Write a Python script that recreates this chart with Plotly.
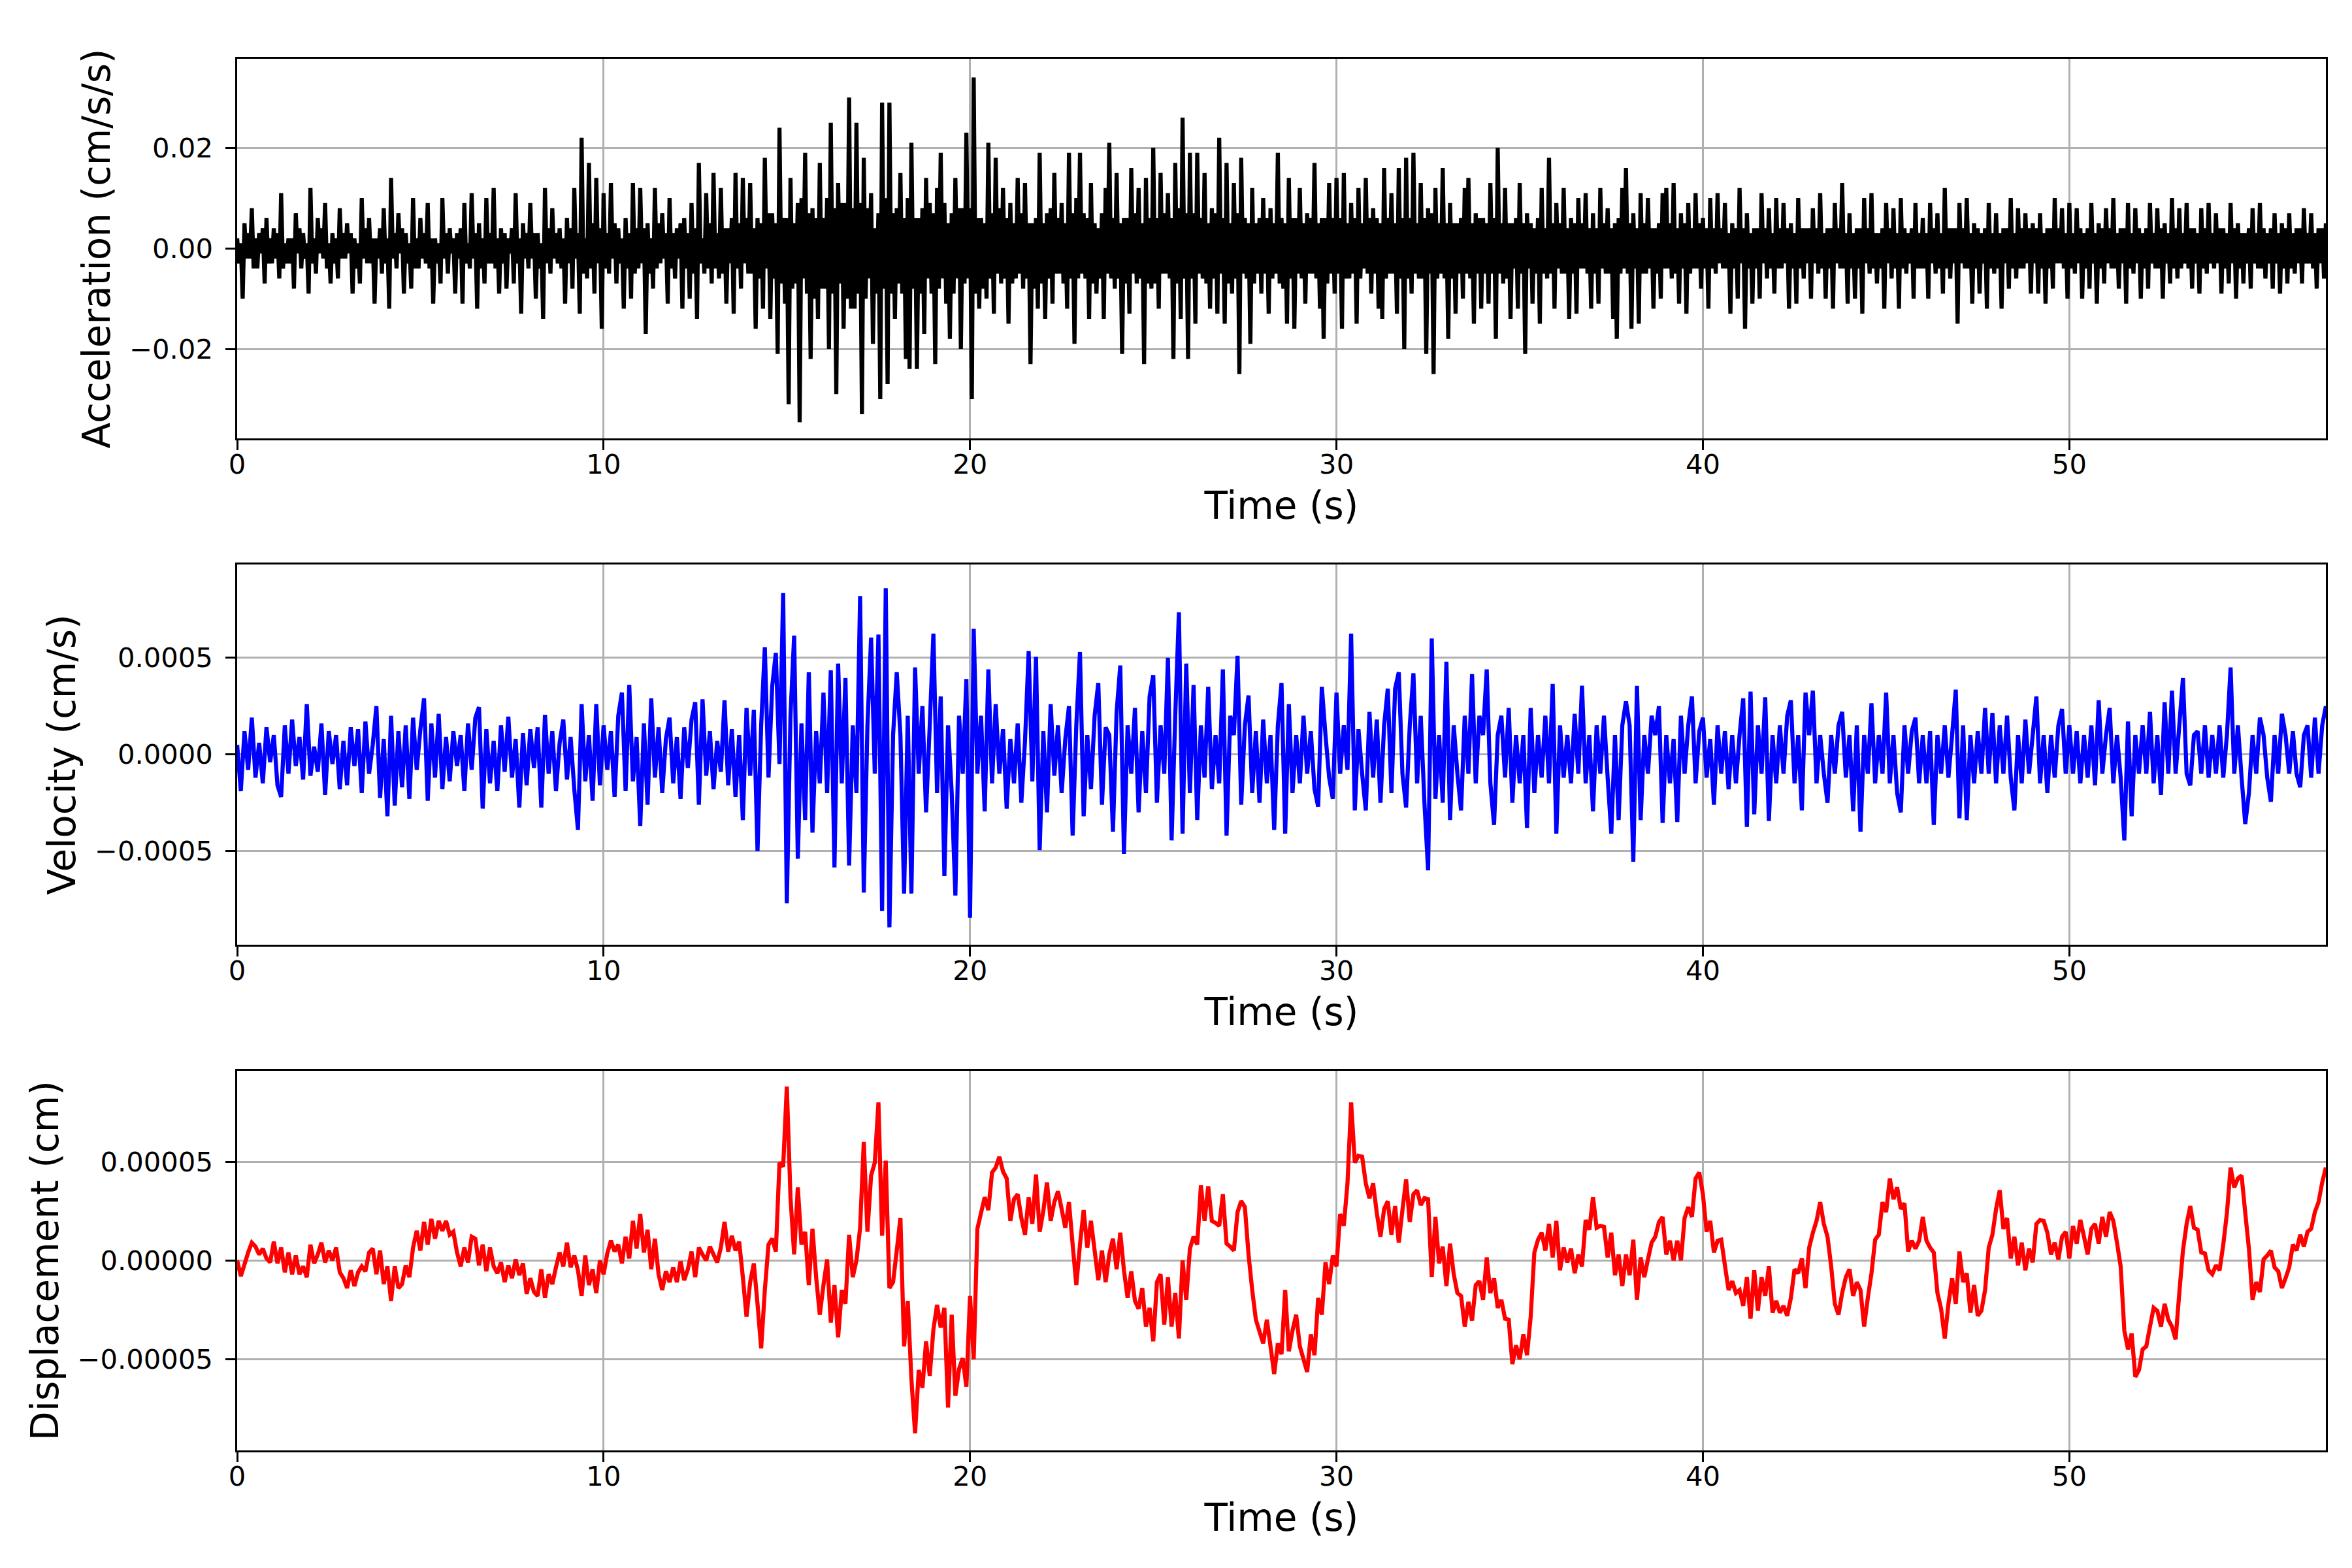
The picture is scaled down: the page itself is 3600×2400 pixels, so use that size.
import numpy as np
import plotly.graph_objects as go

# values; acceleration every 0.05 s, the others every 0.1 s
dt_acc = 0.05
dt = 0.1

# acceleration, units of 1e-3 cm/s/s (one row = 1 s)
acc_e3 = [
    2, -3, 1, -10, 5, -2, 3, -2, 8, -4, 2, -4, 3, -1, 4, -7, 6, -3, 2, -3,
    4, -2, 3, -6, 11, -4, 1, -3, 2, -3, 2, -8, 7, -1, 4, -4, 3, -2, 1, -9,
    12, -3, 2, -5, 6, -1, 4, -2, 9, -4, 1, -7, 3, -3, 2, -6, 8, -2, 3, -2,
    5, -1, 3, -9, 2, -4, 1, -7, 10, -2, 4, -3, 6, -3, 2, -11, 2, -2, 4, -5,
    8, -3, 2, -12, 14, -2, 3, -4, 7, -1, 4, -9, 3, -3, 1, -8, 10, -4, 2, -4,
    6, -2, 3, -3, 9, -4, 2, -11, 2, -3, 1, -7, 10, -2, 3, -5, 4, -1, 2, -9,
    3, -2, 4, -11, 9, -3, 1, -4, 11, -2, 3, -12, 5, -4, 2, -7, 10, -3, 3, -3,
    12, -4, 2, -9, 4, -3, 3, -8, 2, -1, 4, -7, 11, -3, 2, -13, 5, -2, 3, -4,
    9, -2, 3, -10, 3, -4, 1, -14, 12, -3, 4, -5, 8, -2, 3, -3, 4, -4, 2, -11,
    6, -3, 4, -8, 12, -2, 3, -13, 22, -5, 2, -6, 17, -4, 5, -9, 14, -3, 4, -16,
    11, -4, 3, -5, 13, -2, 5, -7, 4, -3, 2, -12, 6, -4, 3, -10, 13, -5, 4, -4,
    12, -3, 4, -17, 5, -5, 2, -8, 12, -4, 5, -3, 7, -2, 3, -11, 10, -4, 3, -6,
    4, -2, 5, -12, 6, -4, 3, -10, 9, -5, 4, -14, 17, -3, 2, -5, 11, -4, 5, -7,
    15, -4, 3, -6, 12, -5, 4, -11, 4, -3, 6, -13, 15, -4, 5, -8, 14, -3, 6, -5,
    13, -5, 4, -16, 6, -6, 5, -12, 18, -4, 7, -14, 7, -6, 5, -21, 24, -7, 6, -11,
    6, -31, 14, -8, 5, -7, 9, -34.6, 10, -6, 19, -9, 7, -22, 8, -10, 6, -14, 17, -8,
    6, -8, 10, -20, 25, -9, 8, -29, 13, -7, 9, -16, 9, -10, 30, -12, 8, -12, 25, -9,
    9, -33, 18, -10, 8, -6, 11, -19, 4, -9, 7, -30, 29, -8, 10, -27, 29, -9, 7, -14,
    8, -7, 15, -9, 6, -22, 10, -24, 21, -8, 6, -24, 6, -9, 8, -17, 14, -6, 9, -9,
    7, -23, 12, -8, 19, -6, 9, -11, 5, -18, 7, -9, 14, -6, 8, -20, 8, -7, 23, -6,
    8, -30, 34, -9, 6, -12, 6, -8, 5, -10, 21, -6, 7, -13, 18, -5, 8, -7, 12, -6,
    6, -15, 9, -7, 5, -6, 14, -5, 7, -8, 13, -6, 5, -23, 5, -8, 6, -12, 19, -7,
    5, -14, 7, -6, 8, -11, 15, -5, 6, -5, 9, -7, 5, -12, 19, -6, 7, -19, 10, -6,
    19, -5, 7, -6, 6, -14, 13, -7, 5, -9, 4, -6, 7, -14, 12, -5, 21, -6, 6, -8,
    15, -6, 5, -21, 6, -7, 6, -13, 16, -5, 7, -7, 12, -6, 5, -23, 14, -7, 6, -8,
    20, -7, 6, -12, 15, -5, 7, -5, 11, -6, 6, -22, 17, -7, 8, -14, 26, -6, 7, -22,
    19, -6, 7, -15, 19, -5, 6, -6, 15, -7, 5, -12, 8, -6, 7, -13, 22, -5, 6, -15,
    17, -7, 5, -9, 13, -6, 7, -25, 18, -5, 6, -6, 5, -19, 12, -7, 5, -5, 6, -9,
    10, -5, 6, -13, 8, -6, 5, -5, 19, -7, 6, -8, 5, -15, 14, -6, 6, -16, 6, -5,
    12, -6, 5, -11, 7, -5, 6, -5, 17, -6, 5, -12, 6, -18, 6, -7, 13, -5, 6, -9,
    14, -5, 6, -16, 15, -6, 5, -6, 9, -5, 6, -15, 12, -6, 5, -4, 14, -5, 6, -9,
    8, -5, 6, -12, 5, -14, 16, -6, 6, -5, 11, -5, 5, -13, 16, -6, 6, -20, 18, -6,
    6, -9, 19, -5, 5, -6, 13, -6, 6, -21, 8, -5, 7, -25, 12, -6, 5, -5, 16, -6,
    5, -18, 9, -6, 5, -13, 5, -5, 6, -10, 12, -5, 14, -6, 5, -15, 7, -5, 6, -12,
    6, -5, 5, -11, 13, -5, 6, -18, 20, -5, 5, -7, 12, -6, 5, -14, 5, -4, 6, -12,
    13, -5, 5, -21, 7, -4, 5, -11, 4, -5, 6, -15, 12, -5, 4, -6, 18, -5, 5, -12,
    9, -4, 5, -5, 12, -5, 4, -14, 6, -5, 5, -13, 10, -4, 5, -4, 11, -5, 4, -12,
    7, -5, 4, -11, 12, -4, 5, -5, 8, -5, 4, -14, 5, -18, 6, -5, 12, -4, 16, -5,
    5, -16, 7, -4, 4, -15, 11, -5, 5, -5, 10, -4, 4, -12, 4, -5, 5, -10, 11, -4,
    12, -4, 5, -6, 13, -5, 4, -11, 7, -4, 5, -13, 9, -5, 4, -4, 11, -4, 5, -8,
    6, -4, 4, -12, 10, -4, 4, -5, 11, -3, 4, -4, 9, -4, 3, -13, 5, -4, 4, -10,
    12, -3, 4, -16, 7, -4, 3, -11, 4, -4, 4, -10, 11, -3, 4, -6, 8, -4, 3, -9,
    10, -4, 4, -4, 9, -3, 4, -12, 5, -4, 3, -11, 10, -4, 4, -6, 4, -3, 4, -10,
    8, -3, 4, -5, 11, -4, 3, -10, 4, -4, 4, -12, 9, -3, 4, -4, 13, -4, 3, -11,
    7, -4, 3, -10, 4, -4, 4, -13, 10, -3, 4, -5, 11, -4, 3, -7, 3, -4, 4, -12,
    9, -3, 4, -6, 8, -4, 3, -12, 10, -4, 4, -5, 3, -3, 4, -10, 9, -4, 3, -4,
    6, -4, 3, -10, 9, -3, 4, -5, 7, -4, 3, -9, 12, -4, 4, -6, 4, -3, 4, -15,
    9, -3, 4, -4, 10, -4, 3, -11, 5, -4, 4, -9, 3, -3, 4, -12, 9, -4, 3, -5,
    7, -4, 3, -12, 4, -3, 4, -8, 10, -4, 3, -6, 8, -4, 4, -4, 7, -3, 4, -9,
    5, -3, 4, -9, 7, -4, 3, -11, 4, -4, 4, -8, 10, -3, 4, -3, 8, -4, 3, -10,
    9, -4, 3, -5, 8, -3, 4, -10, 3, -4, 4, -8, 9, -3, 3, -11, 5, -4, 4, -7,
    8, -3, 4, -4, 10, -4, 3, -8, 4, -3, 4, -11, 9, -4, 3, -5, 8, -3, 4, -10,
    3, -4, 4, -8, 9, -3, 3, -4, 8, -4, 4, -10, 5, -3, 3, -7, 10, -4, 4, -6,
    8, -4, 3, -3, 9, -4, 4, -8, 4, -3, 3, -9, 8, -4, 4, -5, 9, -3, 3, -4,
    7, -3, 4, -9, 4, -4, 3, -7, 9, -3, 4, -10, 5, -4, 3, -7, 3, -3, 4, -8,
    8, -3, 3, -4, 9, -4, 4, -6, 3, -3, 4, -8, 7, -3, 3, -9, 5, -4, 4, -7,
    7, -4, 3, -5, 4, -3, 4, -7, 8, -3, 3, -3, 7, -4, 3, -8, 4, -3, 4, -6,
    5,
]

# velocity, units of 1e-4 cm/s
vel_e4 = [
    0.5, -1.9, 1.2, -0.8, 1.9, -1.2, 0.6, -1.5, 1.4, -0.4,
    1.0, -1.6, -2.2, 1.5, -1.0, 1.8, -0.6, 0.9, -1.3, 2.6,
    -1.1, 0.4, -0.9, 1.6, -2.1, 1.2, -0.5, 1.0, -1.8, 0.7,
    -1.6, 1.4, -0.6, 1.3, -2.0, 1.7, -1.0, 0.5, 2.5, -2.25,
    0.8, -3.2, 2.0, -2.65, 1.2, -1.7, 1.5, -2.3, 1.9, -0.8,
    1.3, 2.9, -2.4, 1.6, -1.2, 2.1, -1.8, 0.9, -1.4, 1.2,
    -0.6, 1.0, -1.9, 1.6, -0.8, 1.9, 2.45, -2.8, 1.3, -1.5,
    0.7, -1.9, 1.5, -0.9, 1.95, -1.2, 0.8, -2.75, 1.1, -1.6,
    1.3, -0.7, 1.4, -2.75, 2.05, -1.0, 1.2, -1.9, 0.6, 1.8,
    -1.3, 0.9, -1.8, -3.9, 2.6, -1.4, 1.0, -2.4, 2.6, -1.6,
    1.5, -0.8, 1.2, -2.2, 2.0, 3.2, -1.9, 3.6, -1.4, 0.9,
    -3.7, 1.6, -2.6, 2.9, -1.2, 1.4, -2.0, 0.8, 1.9, -1.5,
    0.9, -2.3, 1.4, -0.7, 1.8, 2.7, -2.6, 2.85, -1.1, 1.2,
    -1.8, 0.7, -0.9, 2.8, -1.6, 1.3, -2.2, 1.0, -3.4, 2.4,
    -1.1, 2.3, -5.0, 1.5, 5.55, -1.2, 3.5, 5.25, -0.5, 8.35,
    -7.7, 2.0, 6.15, -5.4, 1.6, -3.4, 4.25, -4.05, 1.2, -1.5,
    3.2, -2.0, 4.35, -5.85, 4.7, -1.5, 3.95, -5.75, 1.5, -2.0,
    8.2, -7.15, 1.5, 6.05, -1.0, 6.2, -8.1, 8.6, -8.95, 1.0,
    4.25, 1.0, -7.2, 2.0, -7.2, 4.5, -1.0, 2.5, -3.0, 1.5,
    6.25, -2.0, 3.0, -6.3, 1.5, -2.0, -7.3, 2.0, -1.0, 3.9,
    -8.45, 6.5, -1.0, 2.0, -2.95, 4.4, -1.5, 2.6, -1.0, 1.3,
    -2.8, 0.8, -1.5, 1.6, -2.5, 0.7, 5.35, -1.4, 5.05, -4.95,
    1.2, -3.0, 2.6, -1.1, 1.5, -2.0, 0.8, 2.5, -4.2, 1.5,
    5.3, -3.2, 1.0, -1.8, 2.0, 3.7, -2.6, 1.4, 1.0, -4.0,
    2.2, 4.6, -5.15, 1.5, -1.0, 2.4, -3.0, 1.2, -2.0, 3.0,
    4.1, -2.5, 1.5, -1.0, 5.0, -4.45, 2.0, 7.35, -4.1, 4.7,
    -2.0, 3.6, -3.4, 1.5, -1.2, 3.5, -1.8, 1.0, -1.5, 4.4,
    -4.2, 2.0, 1.0, 5.1, -2.6, 1.5, 3.05, -2.0, 1.2, -2.5,
    1.8, -1.5, 1.0, -3.9, 1.5, 3.7, -4.1, 2.6, -2.0, 1.0,
    -1.5, 2.0, -1.0, 1.2, -1.8, -2.7, 3.5, 1.0, -1.2, -2.3,
    3.2, -1.0, 1.5, -0.8, 6.25, -2.9, 1.3, -1.0, -2.9, 2.2,
    -1.2, 1.8, -2.5, 1.5, 3.4, -2.0, 3.4, 4.25, -1.0, -2.75,
    1.5, 4.2, -1.5, 2.0, -2.5, -6.0, 6.0, -2.3, 1.0, -2.5,
    4.8, -3.4, 1.5, -1.0, -2.9, 2.0, -1.0, 4.15, -1.5, 2.0,
    1.0, 4.4, -1.5, -3.65, 1.0, 2.0, -1.2, 2.4, -2.5, 1.0,
    -1.5, 1.0, -3.8, 2.4, -2.0, 1.0, -1.2, 2.0, -1.5, 3.65,
    -4.1, 1.5, -1.2, 1.0, -1.5, 2.1, -1.0, 3.55, -1.5, 1.0,
    -2.95, 1.5, -1.0, 2.0, -1.2, -4.1, 1.0, -3.4, 1.5, 2.75,
    1.5, -5.55, 3.55, -3.4, 1.0, -1.0, 2.0, 1.0, 2.5, -3.55,
    1.0, -1.5, 0.8, -3.5, 2.0, -1.0, 1.5, 3.0, -1.5, 1.2,
    1.9, -1.2, 0.8, -2.6, 1.5, -1.0, 1.2, -1.8, 1.0, -1.5,
    1.0, 2.9, -3.75, 3.25, -3.1, 1.5, -1.0, 2.95, -3.45, 1.0,
    -1.5, 1.5, -1.0, 2.0, 2.8, -1.5, 1.0, -2.9, 3.2, 1.0,
    3.3, -1.5, 1.0, -1.0, -2.5, 1.0, -1.0, 1.5, 2.2, -1.2,
    1.0, -2.95, 1.5, -4.0, 1.0, -1.0, 2.65, -1.5, 1.0, -1.0,
    3.2, -1.5, 1.0, -2.0, -3.0, 1.5, -1.0, 1.2, 1.9, -1.5,
    1.0, -1.5, 1.2, -3.65, 1.0, -1.0, 1.5, -1.2, 1.0, 3.35,
    -3.3, 1.5, -3.4, 1.0, -1.5, 1.2, -1.0, 2.4, -1.0, 2.15,
    -1.5, 1.5, -1.0, 2.0, -1.2, -2.9, 1.0, -1.5, 1.8, -1.0,
    1.0, 3.0, -1.5, 1.0, -2.0, 1.0, -1.2, 1.5, 2.35, -1.0,
    1.5, -1.0, 1.2, -1.5, 1.0, -1.2, 1.5, -1.6, 2.8, -1.0,
    1.0, 2.4, -1.5, 1.0, -1.2, -4.45, 1.7, -3.2, 1.0, -1.0,
    1.5, -1.0, 2.2, -1.5, 1.0, -2.1, 2.7, -1.0, 3.3, -1.0,
    1.5, 3.95, -1.0, -1.6, 1.0, 1.2, -1.0, 1.5, -1.2, 1.0,
    -1.0, 1.5, -1.2, 1.0, 4.5, -1.0, 1.5, -1.2, -3.6, -2.0,
    1.0, -1.0, 1.9, 1.0, -1.2, -2.45, 1.0, -1.0, 2.1, 1.0,
    -1.0, 1.2, -1.0, -1.7, 1.0, 1.5, -1.2, 1.9, -1.0, 1.5,
    2.5,
]

# displacement, units of 1e-5 cm
disp_e5 = [
    0.0, -0.8, -0.2, 0.4, 0.9, 0.7, 0.3, 0.6, 0.1, -0.1,
    0.95, -0.15, 0.65, -0.6, 0.4, -0.7, 0.25, -0.7, -0.3, -0.85,
    0.8, -0.15, 0.3, 0.9, -0.1, 0.5, 0.0, 0.65, -0.6, -0.9,
    -1.4, -0.5, -1.3, -0.6, -0.3, -0.55, 0.4, 0.6, -0.7, 0.5,
    -1.2, -0.3, -2.05, -0.3, -1.4, -1.2, -0.25, -0.85, 0.65, 1.5,
    0.5, 1.95, 0.8, 2.1, 1.1, 2.0, 1.5, 2.0, 1.3, 1.45,
    0.4, -0.3, 0.65, -0.1, 1.2, 1.1, -0.25, 0.8, -0.55, 0.65,
    -0.3, -0.65, -0.1, -1.1, -0.25, -0.9, 0.05, -0.75, -0.15, -1.7,
    -0.9, -1.6, -1.8, -0.45, -1.9, -0.7, -1.2, -0.35, 0.4, -0.3,
    0.9, -0.35, 0.25, -0.5, -1.8, 0.25, -1.25, -0.45, -1.65, 0.0,
    -0.7, 0.35, 1.0, 0.45, 0.8, -0.15, 1.2, 0.1, 2.0, 0.6,
    2.35, 0.4, 1.55, -0.45, 1.1, -0.7, -1.5, -0.55, -1.1, -0.35,
    -1.1, -0.05, -1.0, -0.45, 0.45, -0.85, 0.65, 0.3, 0.0, 0.7,
    0.3, -0.1, 0.65, 1.95, 0.45, 1.25, 0.5, 0.95, -0.85, -2.85,
    -1.1, -0.15, -2.2, -4.45, -1.5, 0.8, 1.1, 0.45, 4.95, 4.75,
    8.8, 3.2, 0.3, 3.7, 0.8, 1.45, -1.25, 1.6, -0.85, -2.75,
    -1.25, 0.05, -3.15, -1.25, -3.9, -1.5, -2.2, 1.3, -0.85, 0.0,
    1.65, 6.0, 1.45, 4.3, 4.95, 8.0, 1.25, 5.05, -1.4, -1.1,
    0.5, 2.15, -4.35, -2.05, -6.0, -8.75, -5.55, -6.45, -4.1, -5.85,
    -3.5, -2.25, -3.4, -2.4, -7.45, -2.75, -6.85, -5.5, -4.95, -6.4,
    -1.8, -5.0, 1.6, 2.4, 3.2, 2.55, 4.45, 4.7, 5.25, 4.5,
    4.15, 2.0, 3.1, 3.35, 2.15, 1.3, 3.2, 1.85, 4.35, 1.45,
    2.5, 3.95, 2.0, 2.95, 3.5, 2.6, 1.65, 2.95, 0.8, -1.25,
    0.8, 2.55, 0.65, 2.0, 0.5, -1.0, 0.5, -1.1, 0.3, 1.1,
    -0.45, 1.4, -0.5, -1.9, -0.55, -2.05, -2.45, -1.4, -3.35, -2.4,
    -4.1, -1.1, -0.7, -3.25, -0.85, -3.35, -1.65, -3.95, 0.0, -2.0,
    0.6, 1.2, 0.8, 3.8, 2.0, 3.75, 2.0, 1.9, 1.75, 3.35,
    0.85, 0.7, 0.5, 2.45, 3.0, 2.7, 0.3, -1.5, -3.0, -3.6,
    -4.2, -3.0, -4.35, -5.75, -4.2, -4.75, -1.5, -4.6, -3.55, -2.75,
    -4.35, -5.0, -5.65, -3.75, -4.8, -1.9, -2.75, -0.1, -1.2, 0.25,
    -0.3, 2.35, 1.75, 3.9, 8.0, 4.95, 5.3, 5.25, 3.9, 3.15,
    3.9, 2.4, 1.2, 2.6, 3.0, 1.3, 2.75, 0.9, 2.55, 4.1,
    1.95, 3.35, 3.55, 2.8, 3.15, 3.1, -0.85, 2.2, -0.15, 0.7,
    -1.3, 0.85, -0.7, -1.65, -1.8, -3.35, -2.1, -3.05, -1.25, -1.05,
    -2.0, 0.15, -1.65, -0.9, -2.4, -2.0, -2.95, -3.0, -5.25, -4.3,
    -5.0, -3.75, -4.8, -2.85, 0.4, 1.05, 1.4, 0.5, 1.85, 0.15,
    2.0, -0.5, 0.65, -0.1, 0.6, -0.65, 0.3, -0.3, 2.05, 1.55,
    3.2, 1.65, 1.75, 1.7, 0.15, 1.4, -0.75, 0.3, -1.3, 0.3,
    -0.75, 1.05, -2.0, 0.15, -0.85, 0.05, 0.9, 1.2, 1.95, 2.2,
    0.3, 1.0, 0.0, 1.0, 0.0, 2.15, 2.7, 2.2, 4.15, 4.45,
    3.35, 1.45, 2.0, 0.4, 1.0, 1.05, -0.25, -1.5, -1.05, -1.65,
    -1.5, -2.3, -0.85, -2.95, -0.5, -2.55, -0.85, -1.8, -0.3, -2.65,
    -2.05, -2.65, -2.3, -2.8, -1.9, -0.45, -0.65, 0.1, -1.4, 0.65,
    1.4, 2.0, 2.95, 1.85, 1.2, -0.3, -2.2, -2.75, -1.65, -0.85,
    -0.45, -1.8, -1.1, -1.5, -3.35, -1.9, -0.65, 1.05, 1.3, 2.95,
    2.45, 4.15, 3.1, 3.7, 2.6, 2.9, 0.45, 1.0, 0.6, 1.0,
    2.2, 1.0, 0.65, 0.4, -1.65, -2.45, -3.95, -2.2, -0.9, -2.2,
    0.45, -1.1, -0.65, -2.65, -1.25, -2.8, -2.55, -1.5, 0.65, 1.3,
    2.6, 3.55, 1.6, 2.15, 0.1, 1.2, -0.25, 0.9, -0.5, 0.6,
    -0.1, 1.85, 2.05, 2.0, 1.4, 0.3, 0.9, 0.05, 1.2, 1.45,
    0.1, 1.75, 0.85, 2.05, 1.2, 0.3, 1.6, 1.85, 0.85, 2.2,
    1.2, 2.45, 2.0, 0.9, -0.3, -3.55, -4.5, -3.7, -5.9, -5.55,
    -4.5, -4.35, -3.35, -2.4, -2.55, -3.35, -2.2, -3.0, -3.35, -4.0,
    -1.65, 0.5, 1.85, 2.75, 1.65, 1.55, 0.4, 0.35, -0.5, -0.7,
    -0.25, -0.5, 0.8, 2.4, 4.7, 3.7, 4.15, 4.3, 2.4, 0.6,
    -2.0, -1.1, -1.6, 0.05, 0.25, 0.5, -0.35, -0.55, -1.4, -0.9,
    -0.35, 0.8, 0.5, 1.3, 0.7, 1.45, 1.6, 2.45, 2.95, 3.95,
    4.7,
]

t_acc = np.round(np.arange(len(acc_e3)) * dt_acc, 2)
time = np.round(np.arange(len(vel_e4)) * dt, 1)
acc = np.array(acc_e3) * 1e-3
vel = np.array(vel_e4) * 1e-4
disp = np.array(disp_e5) * 1e-5

panels = [
    (t_acc, acc, "black", "Acceleration (cm/s/s)", [-0.0378, 0.0377],
     [-0.02, 0.0, 0.02], ["\u22120.02", "0.00", "0.02"]),
    (time, vel, "blue", "Velocity (cm/s)", [-0.000985, 0.000983],
     [-0.0005, 0.0, 0.0005], ["\u22120.0005", "0.0000", "0.0005"]),
    (time, disp, "red", "Displacement (cm)", [-0.0000962, 0.000096],
     [-0.00005, 0.0, 0.00005], ["\u22120.00005", "0.00000", "0.00005"]),
]
domains = [[0.72723, 1.0], [0.36338, 0.63662], [0.0, 0.27277]]

fig = go.Figure()
axis_style = dict(
    showline=True, linecolor="black", linewidth=3.3, mirror=True,
    ticks="outside", ticklen=14.6, tickwidth=3.3, tickcolor="black",
    showgrid=True, gridcolor="#b0b0b0", gridwidth=3.3,
    zeroline=False, automargin=False,
    tickfont=dict(size=41.7, color="black"),
)

for i, (xs, vals, color, label, yrange, yticks, ytext) in enumerate(panels):
    n = "" if i == 0 else str(i + 1)
    fig.add_trace(go.Scatter(
        x=xs, y=vals, mode="lines", showlegend=False,
        line=dict(color=color, width=6.25, simplify=False),
        xaxis="x" + n, yaxis="y" + n,
    ))
    fig.layout["xaxis" + n] = dict(
        axis_style, domain=[0, 1], anchor="y" + n, range=[0, 57],
        tickvals=[0, 10, 20, 30, 40, 50], ticklabelstandoff=-14,
        title=dict(text="Time (s)", font=dict(size=58), standoff=20),
    )
    fig.layout["yaxis" + n] = dict(
        axis_style, domain=domains[i], anchor="x" + n, range=yrange,
        tickvals=yticks, ticktext=ytext, ticklabelstandoff=11,
        title=dict(text=label, font=dict(size=58), standoff=11),
    )

fig.update_layout(
    width=3600, height=2400,
    margin=dict(l=355, r=48, t=82, b=188),
    paper_bgcolor="white", plot_bgcolor="white",
    font=dict(family="DejaVu Sans", color="black"),
)

fig.write_html("out.html")
